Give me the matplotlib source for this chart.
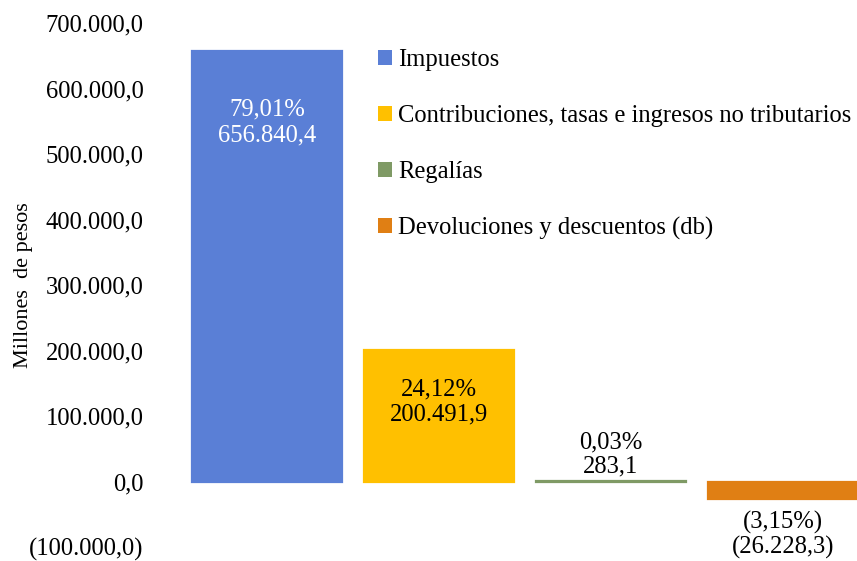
import matplotlib
matplotlib.use("Agg")
import matplotlib.pyplot as plt
from matplotlib.patches import Patch
from matplotlib.ticker import FuncFormatter, MultipleLocator

categories = ["Impuestos", "Contribuciones, tasas e ingresos no tributarios",
              "Regalías", "Devoluciones y descuentos (db)"]
values = [656840.4, 200491.9, 283.1, -26228.3]
shares = [79.01, 24.12, 0.03, -3.15]
colors = ["#5A7FD6", "#FFC000", "#7F9A65", "#E07F14"]
label_colors = ["white", "black", "black", "black"]

plt.rcParams["font.family"] = ["Liberation Serif", "DejaVu Serif"]
FS = 17.7


def fmt_num(v, dec=1):
    s = f"{abs(v):,.{dec}f}".replace(",", "X").replace(".", ",").replace("X", ".")
    return f"({s})" if v < 0 else s


def fmt_pct(p):
    s = f"{abs(p):.2f}".replace(".", ",") + "%"
    return f"({s})" if p < 0 else s


fig = plt.figure(figsize=(8.57, 5.61), dpi=100)
ax = fig.add_axes([181 / 857, 14 / 561, 688 / 857, 524 / 561])

x = list(range(len(categories)))
bars = ax.bar(x, values, width=0.87, color=colors, edgecolor=colors, linewidth=1.6)

ax.set_xlim(-0.5, 3.5)
ax.set_ylim(-100000, 700000)
ax.yaxis.set_major_locator(MultipleLocator(100000))
ax.yaxis.set_major_formatter(FuncFormatter(lambda v, p: fmt_num(v)))
ax.set_xticks([])
ax.tick_params(axis="y", length=0, pad=27, labelsize=FS)
for s in ax.spines.values():
    s.set_visible(False)
ax.set_ylabel("Millones  de pesos", fontsize=16)
ax.yaxis.set_label_coords((33 - 181) / 688, 0.5)

# data labels: (offset in points from bar end, vertical alignment, line spacing)
offsets = [(-34, "top", 1.25), (-20, "top", 1.2), (3, "bottom", 1.1), (-9, "top", 1.1)]
for xi, v, p, c, (off, va, ls) in zip(x, values, shares, label_colors, offsets):
    ax.annotate(f"{fmt_pct(p)}\n{fmt_num(v)}", xy=(xi, v), xytext=(0, off),
                textcoords="offset points", ha="center", va=va,
                fontsize=FS, color=c, linespacing=ls)

handles = [Patch(facecolor=c, edgecolor="none") for c in colors]
ax.legend(handles, categories, loc="upper left",
          bbox_to_anchor=((378 - 181) / 688, 1 - (49 - 23) / 524),
          frameon=False, fontsize=FS, handlelength=0.57, handleheight=0.57,
          handletextpad=0.25, labelspacing=1.38, borderaxespad=0, borderpad=0)

fig.savefig("out.png", dpi=100)
